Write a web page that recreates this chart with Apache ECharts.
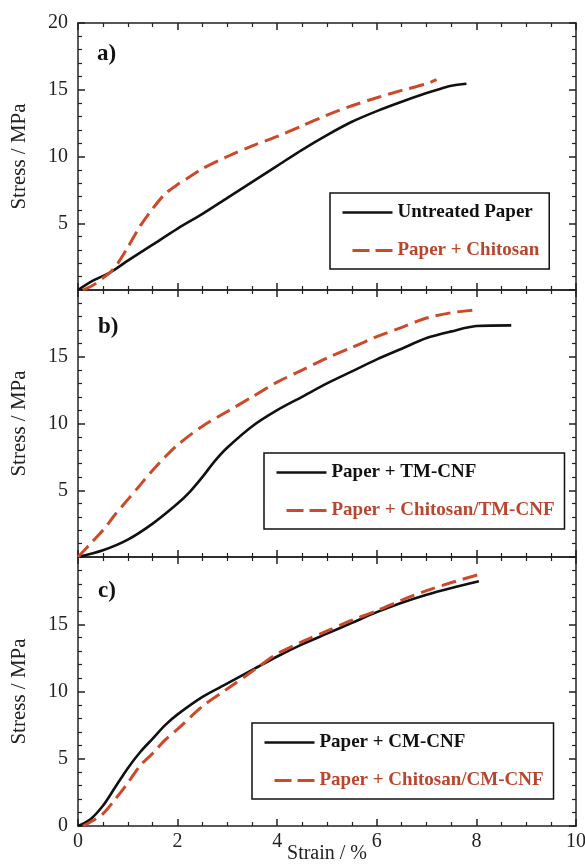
<!DOCTYPE html>
<html>
<head>
<meta charset="utf-8">
<script src="https://cdn.jsdelivr.net/npm/echarts@6/dist/echarts.min.js"></script>
<style>
    html, body { margin: 0; padding: 0; background: #fff; }
    #container { width: 585px; height: 865px; }
</style>
</head>
<body>
<div id="container"></div>
<script>
//a) 数据
var untreatedStrain = [0, 0.3, 0.64, 1, 1.5, 2, 2.5, 3, 3.5, 4, 4.5, 5, 5.5, 6, 6.5, 7, 7.3, 7.5, 7.8];
var untreatedStress = [0, 0.7, 1.3, 2.2, 3.4, 4.6, 5.7, 6.9, 8.1, 9.3, 10.5, 11.6, 12.6, 13.4, 14.1, 14.75, 15.1, 15.3, 15.45];
var chitosanStrain = [0.1, 0.3, 0.5, 0.64, 0.8, 1, 1.25, 1.5, 1.75, 2, 2.25, 2.5, 3, 3.5, 4, 4.5, 5, 5.5, 6, 6.5, 7, 7.2];
var chitosanStress = [0, 0.35, 0.9, 1.3, 2.0, 3.2, 4.8, 6.1, 7.2, 7.9, 8.5, 9.1, 10.0, 10.8, 11.5, 12.3, 13.1, 13.8, 14.4, 14.95, 15.45, 15.75];
//b) 数据
var tmStrain = [0, 0.5, 1, 1.5, 2, 2.25, 2.5, 2.75, 3, 3.5, 4, 4.5, 5, 5.5, 6, 6.5, 7, 7.5, 8, 8.7];
var tmStress = [0, 0.5, 1.3, 2.5, 4.0, 4.9, 6.0, 7.2, 8.2, 9.8, 11.0, 12.0, 13.0, 13.9, 14.8, 15.6, 16.4, 16.9, 17.3, 17.35];
var chiTmStrain = [0, 0.25, 0.5, 0.75, 1, 1.25, 1.5, 1.75, 2, 2.5, 3, 3.5, 4, 4.5, 5, 5.5, 6, 6.5, 7, 7.5, 7.95];
var chiTmStress = [0, 1.0, 2.0, 3.2, 4.3, 5.4, 6.5, 7.5, 8.4, 9.8, 10.9, 12.0, 13.1, 14.0, 14.9, 15.7, 16.5, 17.2, 17.9, 18.3, 18.5];
//c) 数据
var cmStrain = [0, 0.25, 0.5, 0.75, 1, 1.25, 1.5, 1.75, 2, 2.5, 3, 3.5, 4, 4.5, 5, 5.5, 6, 6.5, 7, 7.5, 8.05];
var cmStress = [0, 0.5, 1.5, 2.9, 4.3, 5.5, 6.5, 7.5, 8.3, 9.6, 10.6, 11.6, 12.6, 13.5, 14.3, 15.1, 15.9, 16.6, 17.2, 17.7, 18.2];
var chiCmStrain = [0.1, 0.25, 0.5, 0.75, 1, 1.25, 1.5, 1.75, 2, 2.5, 3, 3.5, 4, 4.5, 5, 5.5, 6, 6.5, 7, 7.5, 8.05];
var chiCmStress = [0, 0.3, 0.9, 2.0, 3.2, 4.5, 5.4, 6.4, 7.2, 8.9, 10.2, 11.5, 12.8, 13.7, 14.5, 15.3, 16.0, 16.8, 17.5, 18.1, 18.7];

//名称和刻度标签
var seriesNames = [
    ['Untreated Paper', 'Paper + Chitosan'],
    ['Paper + TM-CNF', 'Paper + Chitosan/TM-CNF'],
    ['Paper + CM-CNF', 'Paper + Chitosan/CM-CNF']
];
var panelLabels = ['a)', 'b)', 'c)'];
var yShownTicks = [[5, 10, 15, 20], [5, 10, 15], [0, 5, 10, 15]];

var FONT = "'Liberation Serif', 'Times New Roman', serif";
var BLACK = '#111';
var RED = '#cc4a2a';
var RED_TEXT = '#b8462d';
var AXIS = '#222';

function zip(xs, ys) {
    var out = [];
    for (var i = 0; i < xs.length; i++) {
        out.push([xs[i], ys[i]]);
    }
    return out;
}

var curves = [
    [zip(untreatedStrain, untreatedStress), zip(chitosanStrain, chitosanStress)],
    [zip(tmStrain, tmStress), zip(chiTmStrain, chiTmStress)],
    [zip(cmStrain, cmStress), zip(chiCmStrain, chiCmStress)]
];

var gridTops = [23, 290, 557];
var gridHeights = [267, 267, 269];
var legendPos = [[330, 193], [264, 453], [252, 723]];
var labelPos = [[97, 55], [98, 328], [98, 592]];

var grid = [], xAxis = [], yAxis = [], series = [], legend = [], graphic = [];
var lineStyle = { color: AXIS, width: 1.5 };

for (var i = 0; i < 3; i++) {
    grid.push({ left: 78, right: 9, top: gridTops[i], height: gridHeights[i], outerBoundsMode: 'none' });

    //x轴：下 + 上
    for (var k = 0; k < 2; k++) {
        xAxis.push({
            gridIndex: i,
            type: 'value',
            min: 0,
            max: 10,
            interval: 2,
            position: k === 0 ? 'bottom' : 'top',
            name: (k === 0 && i === 2) ? 'Strain / %' : '',
            nameLocation: 'middle',
            nameGap: 18,
            nameMoveOverlap: false,
            nameTextStyle: { fontFamily: FONT, fontSize: 20, color: AXIS },
            axisLine: { show: true, onZero: false, lineStyle: lineStyle },
            axisTick: { show: true, inside: true, length: 7, lineStyle: lineStyle },
            minorTick: { show: true, splitNumber: 4, length: 4, lineStyle: { color: AXIS, width: 1.2 } },
            splitLine: { show: false },
            axisLabel: {
                show: k === 0 && i === 2,
                margin: 6,
                fontFamily: FONT,
                fontSize: 20,
                color: AXIS,
                showMaxLabel: true,
                showMinLabel: true
            }
        });
    }

    //y轴：左 + 右
    for (var k = 0; k < 2; k++) {
        (function (shown) {
            yAxis.push({
                gridIndex: i,
                type: 'value',
                min: 0,
                max: 20,
                interval: 5,
                position: k === 0 ? 'left' : 'right',
                name: k === 0 ? 'Stress / MPa' : '',
                nameLocation: 'middle',
                nameGap: 48,
                nameMoveOverlap: false,
                nameTextStyle: { fontFamily: FONT, fontSize: 21, color: AXIS },
                axisLine: { show: true, onZero: false, lineStyle: lineStyle },
                axisTick: { show: true, inside: true, length: 7, lineStyle: lineStyle },
                minorTick: { show: true, splitNumber: 5, length: 4, lineStyle: { color: AXIS, width: 1.2 } },
                splitLine: { show: false },
                axisLabel: {
                    show: k === 0,
                    margin: 10,
                    fontFamily: FONT,
                    fontSize: 20,
                    color: AXIS,
                    showMaxLabel: true,
                    showMinLabel: true,
                    formatter: function (v) {
                        return shown.indexOf(v) >= 0 ? String(v) : '';
                    }
                }
            });
        })(yShownTicks[i]);
    }

    //曲线
    series.push({
        name: seriesNames[i][0],
        type: 'line',
        xAxisIndex: 2 * i,
        yAxisIndex: 2 * i,
        data: curves[i][0],
        smooth: 0.3,
        symbol: 'none',
        silent: true,
        z: 3,
        lineStyle: { color: BLACK, width: 2.6 },
        itemStyle: { color: BLACK }
    });
    series.push({
        name: seriesNames[i][1],
        type: 'line',
        xAxisIndex: 2 * i,
        yAxisIndex: 2 * i,
        data: curves[i][1],
        smooth: 0.3,
        symbol: 'none',
        silent: true,
        z: 4,
        lineStyle: { color: RED, width: 3, type: [15, 7] },
        itemStyle: { color: RED }
    });

    //图例（隐藏圆点，只留线）
    legend.push({
        orient: 'vertical',
        left: legendPos[i][0],
        top: legendPos[i][1],
        data: [
            {
                name: seriesNames[i][0],
                textStyle: { color: BLACK },
                lineStyle: { width: 2.6, type: 'solid' }
            },
            {
                name: seriesNames[i][1],
                textStyle: { color: RED_TEXT },
                lineStyle: { width: 3, type: [17, 6, 17, 10], dashOffset: 40 }
            }
        ],
        itemWidth: 50,
        itemHeight: 14,
        itemGap: 19,
        padding: [10, 10, 9, 11],
        itemStyle: { opacity: 0 },
        borderColor: '#111',
        borderWidth: 1.5,
        borderRadius: 0,
        backgroundColor: '#fff',
        selectedMode: false,
        textStyle: { fontFamily: FONT, fontSize: 19, fontWeight: 'bold' }
    });

    //面板标签
    graphic.push({
        type: 'text',
        left: labelPos[i][0],
        top: labelPos[i][1] - 12,
        style: { text: panelLabels[i], font: 'bold 23px ' + FONT, fill: '#111' }
    });
}

var myChart = echarts.init(document.getElementById('container'), null, { renderer: 'canvas' });
var option = {
    backgroundColor: '#fff',
    animation: false,
    grid: grid,
    xAxis: xAxis,
    yAxis: yAxis,
    legend: legend,
    graphic: graphic,
    series: series
};
if (option && typeof option === "object") {
    myChart.setOption(option, true);
}
</script>
</body>
</html>
